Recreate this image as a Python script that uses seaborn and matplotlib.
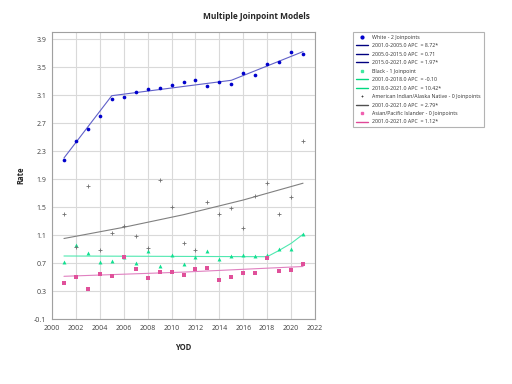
import numpy as np
import pandas as pd
import matplotlib
matplotlib.use("Agg")
import matplotlib.pyplot as plt
from matplotlib.lines import Line2D
import seaborn as sns

years = list(range(2001, 2022))
white = [2.17, 2.45, 2.62, 2.80, 3.04, 3.07, 3.14, 3.19, 3.20, 3.24, 3.28, 3.32,
         3.23, 3.28, 3.26, 3.42, 3.38, 3.55, 3.57, 3.72, 3.68]
black = [0.71, 0.96, 0.84, 0.72, 0.73, 0.78, 0.70, 0.87, 0.66, 0.81, 0.68, 0.78,
         0.87, 0.76, 0.80, 0.81, 0.80, 0.82, 0.90, 0.90, 1.12]
aian = [1.40, 0.93, 1.80, 0.89, 1.13, 1.23, 1.09, 0.92, 1.89, 1.50, 0.98, 0.89,
        1.57, 1.40, 1.48, 1.20, 1.66, 1.85, 1.40, 1.65, 2.44]
asian = [0.41, 0.50, 0.33, 0.55, 0.51, 0.78, 0.61, 0.49, 0.57, 0.57, 0.53, 0.61,
         0.63, 0.46, 0.50, 0.56, 0.56, 0.77, 0.58, 0.60, 0.68]

white_fit_years = [2001, 2005, 2015, 2021]
white_fit = [2.20, 3.09, 3.31, 3.72]
black_fit_years = [2001, 2018, 2019, 2020, 2021]
black_fit = [0.80, 0.79, 0.88, 0.98, 1.11]
aian_fit_years = [2001, 2006, 2011, 2016, 2021]
aian_fit = [1.05, 1.21, 1.39, 1.60, 1.84]
asian_fit_years = [2001, 2011, 2021]
asian_fit = [0.51, 0.57, 0.65]

x_ticks = list(range(2000, 2023, 2))
y_ticks = [-0.1, 0.3, 0.7, 1.1, 1.5, 1.9, 2.3, 2.7, 3.1, 3.5, 3.9]

legend_labels = [
    "White - 2 Joinpoints",
    "2001.0-2005.0 APC  = 8.72*",
    "2005.0-2015.0 APC  = 0.71",
    "2015.0-2021.0 APC  = 1.97*",
    "Black - 1 Joinpoint",
    "2001.0-2018.0 APC  = -0.10",
    "2018.0-2021.0 APC  = 10.42*",
    "American Indian/Alaska Native - 0 Joinpoints",
    "2001.0-2021.0 APC  = 2.79*",
    "Asian/Pacific Islander - 0 Joinpoints",
    "2001.0-2021.0 APC  = 1.12*",
]

sns.set_style("white")
plt.rcParams["font.family"] = ["Open Sans", "DejaVu Sans"]

fig = plt.figure(figsize=(5.12, 3.84), dpi=100)
ax = fig.add_axes([52/512, 1-319/384, (315-52)/512, (319-32)/384])

pts = pd.DataFrame({"year": years * 4,
                    "rate": white + black + aian + asian,
                    "group": ["White"]*21 + ["Black"]*21 + ["AIAN"]*21 + ["Asian"]*21})

styles = {
    "White": dict(marker="o", color="#0000CC", s=7, lw=0),
    "Black": dict(marker="^", color="#10E090", s=8, lw=0),
    "AIAN": dict(marker="+", color="#707070", s=5, lw=0.6),
    "Asian": dict(marker="s", color="#E0509A", s=6, lw=0),
}
fits = [
    (white_fit_years, white_fit, "#6060C8"),
    (black_fit_years, black_fit, "#50E8B0"),
    (aian_fit_years, aian_fit, "#808080"),
    (asian_fit_years, asian_fit, "#E080C0"),
]
for fy, fv, c in fits:
    sns.lineplot(x=fy, y=fv, ax=ax, color=c, lw=0.8)
for g, st in styles.items():
    d = pts[pts.group == g]
    sns.scatterplot(data=d, x="year", y="rate", ax=ax, marker=st["marker"],
                    color=st["color"], s=st["s"], linewidth=st["lw"],
                    edgecolor=st["color"] if st["marker"] != "+" else None, zorder=3)

ax.set_xlim(2000, 2022)
ax.set_ylim(-0.1, 4.0)
ax.set_xticks(x_ticks)
ax.set_yticks(y_ticks)
ax.set_xticklabels([str(t) for t in x_ticks])
ax.set_yticklabels([f"{t:.1f}" for t in y_ticks])
ax.grid(True, color="#d9d9d9", lw=0.8)
for s in ax.spines.values():
    s.set_color("#a0a0a0")
    s.set_linewidth(0.8)
ax.tick_params(axis="both", labelsize=5, length=2, width=0.6, pad=2,
               colors="#a0a0a0", labelcolor="#404040")
ax.set_xlabel("YOD", fontsize=5.5, fontweight="bold", labelpad=8)
ax.set_ylabel("Rate", fontsize=5.5, fontweight="bold", labelpad=6)
fig.suptitle("Multiple Joinpoint Models", x=0.5, y=0.97, fontsize=6, fontweight="bold")

handles = [
    Line2D([], [], ls="", marker="o", color="#0000CC", ms=2),
    Line2D([], [], color="#000080", lw=1),
    Line2D([], [], color="#000080", lw=1),
    Line2D([], [], color="#000080", lw=1),
    Line2D([], [], ls="", marker="s", color="#40E8A0", ms=2),
    Line2D([], [], color="#00D880", lw=1),
    Line2D([], [], color="#00D880", lw=1),
    Line2D([], [], ls="", marker="+", color="#404040", ms=2, mew=0.6),
    Line2D([], [], color="#505050", lw=1),
    Line2D([], [], ls="", marker="s", color="#F060B0", ms=2),
    Line2D([], [], color="#E04898", lw=1),
]
leg = fig.legend(handles, legend_labels, loc="upper left",
                 bbox_to_anchor=(353/512, 1-32/384), fontsize=3.8,
                 frameon=True, fancybox=False, edgecolor="#a0a0a0",
                 handlelength=2.4, labelspacing=0.66, borderpad=0.5,
                 handletextpad=0.75, borderaxespad=0)
leg.get_frame().set_linewidth(0.8)
for t in leg.get_texts():
    t.set_color("#303030")

fig.savefig("out.png", dpi=100)
